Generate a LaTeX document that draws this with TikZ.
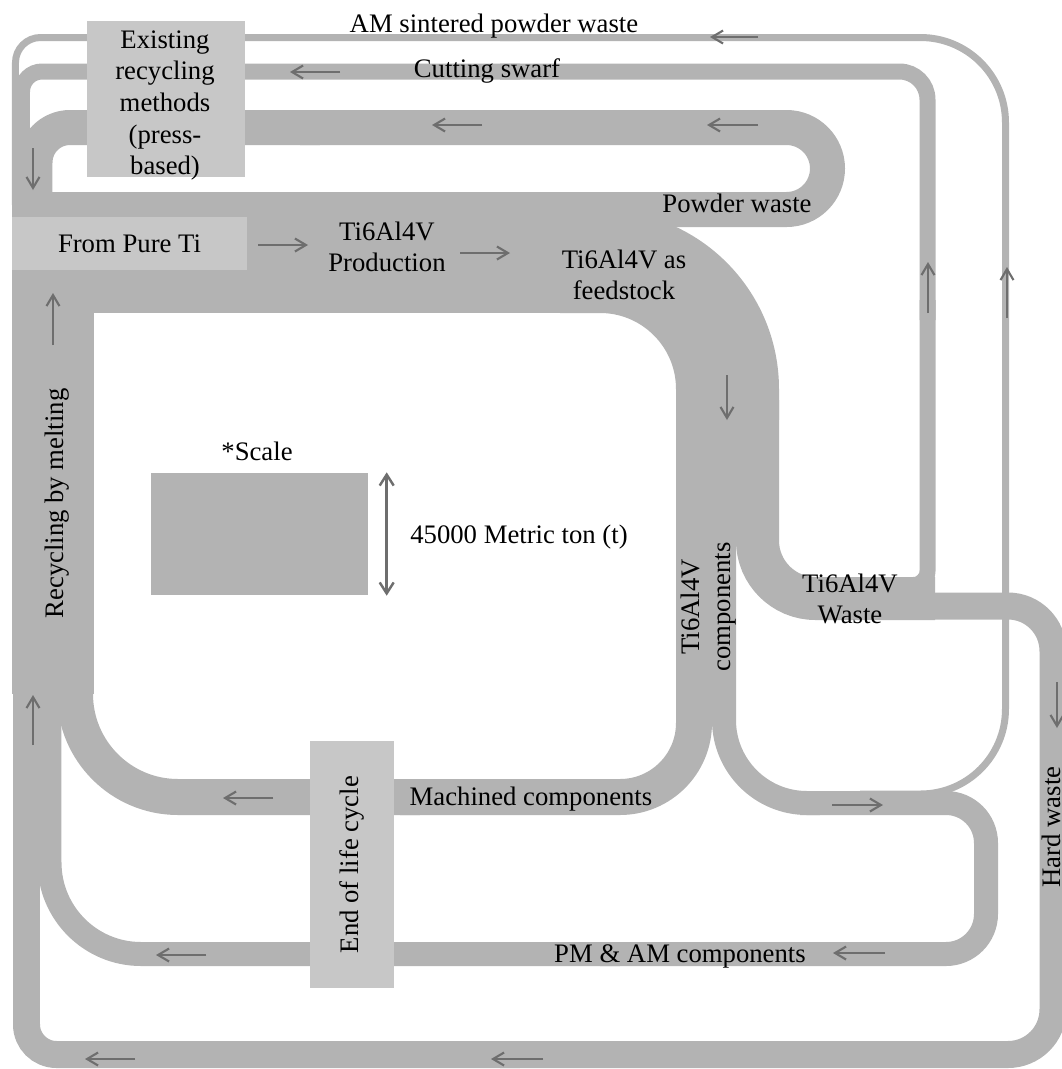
\documentclass[tikz,border=0pt]{standalone}
\usepackage{fontspec}
\setmainfont{Liberation Serif}
\usetikzlibrary{arrows.meta}
\definecolor{flowgray}{RGB}{179,179,179}
\definecolor{boxgray}{RGB}{199,199,199}
\definecolor{arrgray}{RGB}{110,110,110}

\begin{document}
\begin{tikzpicture}[x=0.1mm,y=-0.1mm,
  every node/.style={font=\fontsize{7.6}{9}\selectfont},
  flow/.style={draw=flowgray,line width=#1},
  box/.style={fill=boxgray,inner sep=0pt,align=center},
  lbl/.style={align=center},
  arr/.style={draw=arrgray,line width=0.6pt,-{Straight Barb[length=1.1mm,width=1.3mm]}},
  dblarr/.style={draw=arrgray,line width=0.7pt,{Straight Barb[length=1.1mm,width=1.4mm]}-{Straight Barb[length=1.1mm,width=1.4mm]}}
]
\useasboundingbox (0,0) rectangle (1062,1069);

% outer loops (thin AM powder line, cutting swarf, hard waste)
\draw[flow=0.7mm,rounded corners=8.5mm] (860,794) -- (1005.5,794) -- (1005.5,37.5) -- (500,37.5);
\draw[flow=0.7mm,rounded corners=2.5mm] (520,37.5) -- (15.5,37.5) -- (15.5,205);
\draw[flow=1.6mm,rounded corners=1.4mm] (900,585) -- (927.5,585) -- (927.5,300);
\draw[flow=1.6mm,rounded corners=2.8mm] (927.5,320) -- (927.5,71.5) -- (500,71.5);
\draw[flow=1.6mm,rounded corners=2mm] (520,71.5) -- (22,71.5) -- (22,205);
\draw[flow=2.7mm,rounded corners=4.5mm] (880,606) -- (1053,606) -- (1053,1054.5) -- (500,1054.5);
\draw[flow=2.7mm,rounded corners=3mm] (520,1054.5) -- (26.5,1054.5) -- (26.5,690);

% main production band, bend and powder waste loop
\draw[flow=12.1mm] (12,252.5) -- (600,252.5);
\draw[flow=10.3mm,rounded corners=12.75mm] (560,261.5) -- (727.5,261.5) -- (727.5,420);
\draw[flow=3.5mm,rounded corners=4.1mm] (590,209.5) -- (827.5,209.5) -- (827.5,127.5) -- (300,127.5);
\draw[flow=3.5mm,rounded corners=3.5mm] (320,127.5) -- (35,127.5) -- (35,205);

% branches out of the components band
\draw[flow=4.3mm,rounded corners=5.8mm] (757.5,400) -- (757.5,598.5) -- (935,598.5);
\draw[flow=3.6mm,rounded corners=7.4mm] (694,400) -- (694,797) -- (400,797);
\draw[flow=3.6mm,rounded corners=10.3mm] (420,797) -- (75,797) -- (75,690);
\draw[flow=2.4mm,rounded corners=8.3mm] (724,400) -- (724,803) -- (820,803);
\draw[flow=2.4mm,rounded corners=4mm] (800,803) -- (986,803) -- (986,954) -- (600,954);
\draw[flow=2.4mm,rounded corners=9.15mm] (620,954) -- (49.5,954) -- (49.5,690);

% recycling by melting
\draw[flow=8.2mm] (53,694) -- (53,260);

% boxes
\node[box,minimum width=15.8mm,minimum height=15.6mm] (exist) at (166,99) {};
\node[lbl] (existtxt) at (165,105.5) {Existing\\recycling\\methods\\(press-\\based)};
\node[box,minimum width=23.5mm,minimum height=5.3mm] (pure) at (129.5,243.5) {From Pure Ti};
\node[box,rotate=90,minimum width=24.7mm,minimum height=8.4mm] (eol) at (352,864.5) {End of life cycle};
\node[fill=flowgray,inner sep=0pt,minimum width=21.7mm,minimum height=12.2mm] (scalebox) at (259.5,534) {};

% labels
\node[anchor=base] (amtxt) at (494,32) {AM sintered powder waste};
\node[anchor=base] (swarftxt) at (487,77) {Cutting swarf};
\node[anchor=base] (powtxt) at (737,212) {Powder waste};
\node[lbl] (prodtxt) at (387,247) {Ti6Al4V\\Production};
\node[lbl] (feedtxt) at (624,275) {Ti6Al4V as\\feedstock};
\node[lbl,rotate=90] (comptxt) at (708.5,607) {Ti6Al4V\\components};
\node[lbl] (wastetxt) at (850,599) {Ti6Al4V\\Waste};
\node[rotate=90,inner sep=1pt] (hardtxt) at (1051,827) {Hard waste};
\node[rotate=90] (recytxt) at (57.5,503.5) {Recycling by melting};
\node[anchor=base] (machtxt) at (531,805) {Machined components};
\node[anchor=base] (pmtxt) at (680,962) {PM \& AM components};
\node[anchor=base] (scaletxt) at (257,460) {*Scale};
\node[anchor=base] (tontxt) at (519,543) {45000 Metric ton (t)};

% flow direction arrows
\draw[arr] (758,37) -- (710,37);
\draw[arr] (340,72) -- (290,72);
\draw[arr] (482,125) -- (432,125);
\draw[arr] (758,125) -- (707,125);
\draw[arr] (33,148) -- (33,190);
\draw[arr] (258,245) -- (308,245);
\draw[arr] (460,253) -- (510,253);
\draw[arr] (727,375) -- (727,420);
\draw[arr] (928,313) -- (928,262);
\draw[arr] (1007,318) -- (1007,267);
\draw[arr] (1057,682) -- (1057,728);
\draw[arr] (832,805) -- (883,805);
\draw[arr] (885,953) -- (833,953);
\draw[arr] (273,798) -- (223,798);
\draw[arr] (206,955) -- (156,955);
\draw[arr] (135,1059) -- (85,1059);
\draw[arr] (543,1059) -- (491,1059);
\draw[arr] (33,745) -- (33,695);
\draw[arr] (53,345) -- (53,293);

% scale marker
\draw[dblarr] ([xshift=1.8mm]scalebox.north east) -- ([xshift=1.8mm]scalebox.south east);
\end{tikzpicture}
\end{document}
